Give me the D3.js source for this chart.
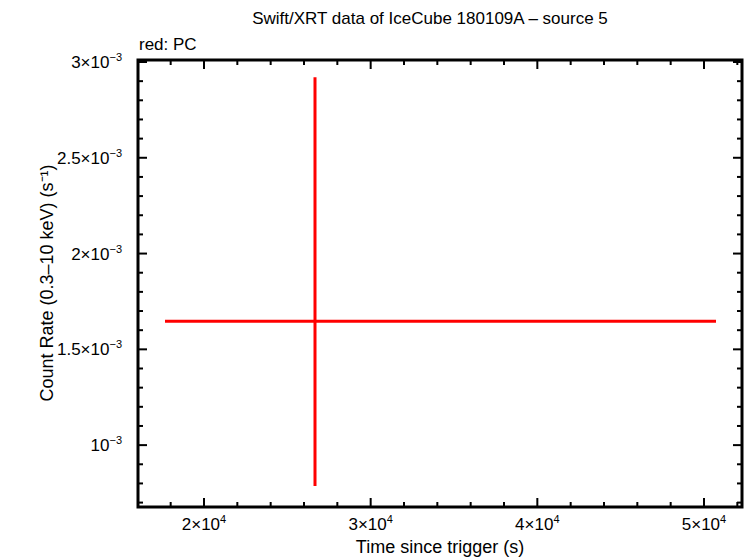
<!DOCTYPE html>
<html><head><meta charset="utf-8">
<script src="https://cdn.jsdelivr.net/npm/d3@7"></script>
<style>body{margin:0;background:#fff}text{font-family:"Liberation Sans",Arial,sans-serif}</style>
</head><body><svg id="c" width="746" height="558"></svg>
<script>
const times=[26660];
const tLo=[17660];
const tHi=[50720];
const rates=[1.646e-3];
const rLo=[0.786e-3];
const rHi=[2.92e-3];
const xTicks=[2e4,3e4,4e4,5e4];
const xTickLabels=["2","3","4","5"];
const yTicks=[1e-3,1.5e-3,2e-3,2.5e-3,3e-3];
const yTickLabels=["","1.5","2","2.5","3"];

const svg=d3.select("#c");
const L=138,R=742,T=60,B=507;
const x=d3.scaleLinear().domain([16040,52280]).range([L,R]);
const y=d3.scaleLinear().domain([0.677e-3,3.0104e-3]).range([B,T]);

svg.append("text").attr("x",430).attr("y",24).attr("text-anchor","middle").attr("font-size",17).text("Swift/XRT data of IceCube 180109A – source 5");
svg.append("text").attr("x",139).attr("y",50).attr("font-size",17).text("red: PC");

const g=svg.append("g");
// minor ticks
const xMinor=d3.range(18000,52001,2000);
const yMinor=d3.range(7,31).map(v=>v*1e-4);
xMinor.forEach(v=>{const big=v%10000===0,l=big?9:5;
 g.append("line").attr("x1",x(v)).attr("x2",x(v)).attr("y1",B).attr("y2",B-l).attr("stroke","#000").attr("stroke-width",2);
 g.append("line").attr("x1",x(v)).attr("x2",x(v)).attr("y1",T).attr("y2",T+l).attr("stroke","#000").attr("stroke-width",2);});
yMinor.forEach(v=>{const big=Math.round(v*1e4)%5===0,l=big?9:5;
 g.append("line").attr("y1",y(v)).attr("y2",y(v)).attr("x1",L).attr("x2",L+l).attr("stroke","#000").attr("stroke-width",2);
 g.append("line").attr("y1",y(v)).attr("y2",y(v)).attr("x1",R).attr("x2",R-l).attr("stroke","#000").attr("stroke-width",2);});
g.append("rect").attr("x",L).attr("y",T).attr("width",R-L).attr("height",B-T).attr("fill","none").attr("stroke","#000").attr("stroke-width",3);

xTicks.forEach((v,i)=>{
 const t=svg.append("text").attr("x",x(v)).attr("y",530).attr("text-anchor","middle").attr("font-size",17);
 t.append("tspan").text(xTickLabels[i]+"×10");
 t.append("tspan").attr("dy",-7).attr("font-size",11).text("4");
});
yTicks.forEach((v,i)=>{
 const t=svg.append("text").attr("x",122).attr("y",y(v)+6).attr("text-anchor","end").attr("font-size",17);
 t.append("tspan").text(yTickLabels[i]+(yTickLabels[i]?"×":"")+"10");
 t.append("tspan").attr("dy",-7).attr("font-size",11).text("−3");
});
svg.append("text").attr("x",440).attr("y",553).attr("text-anchor","middle").attr("font-size",18).text("Time since trigger (s)");
svg.append("text").attr("transform","translate(53,283) rotate(-90)").attr("text-anchor","middle").attr("font-size",18).text("Count Rate (0.3–10 keV) (s⁻¹)");

const pts=times.map((t,i)=>({t,lo:tLo[i],hi:tHi[i],r:rates[i],rl:rLo[i],rh:rHi[i]}));
pts.forEach(p=>{
 svg.append("line").attr("x1",x(p.lo)).attr("x2",x(p.hi)).attr("y1",y(p.r)).attr("y2",y(p.r)).attr("stroke","#f00").attr("stroke-width",3);
 svg.append("line").attr("x1",x(p.t)).attr("x2",x(p.t)).attr("y1",y(p.rl)).attr("y2",y(p.rh)).attr("stroke","#f00").attr("stroke-width",3);
});
</script></body></html>
